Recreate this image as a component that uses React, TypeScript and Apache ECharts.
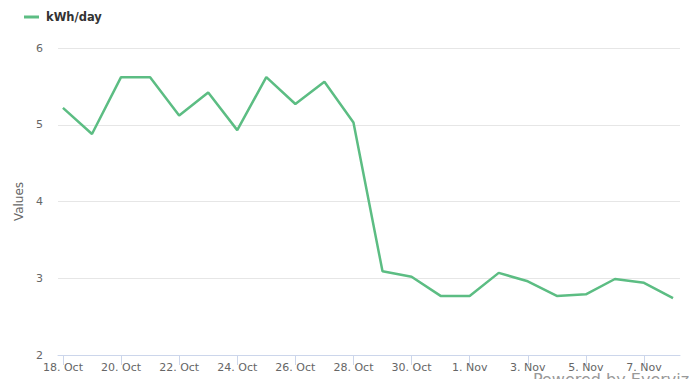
import React, { useEffect, useRef } from "react";
import * as echarts from "echarts";

const dates = [
  "18. Oct", "19. Oct", "20. Oct", "21. Oct", "22. Oct", "23. Oct", "24. Oct",
  "25. Oct", "26. Oct", "27. Oct", "28. Oct", "29. Oct", "30. Oct", "31. Oct",
  "1. Nov", "2. Nov", "3. Nov", "4. Nov", "5. Nov", "6. Nov", "7. Nov", "8. Nov",
];
const kwhPerDay = [
  5.22, 4.88, 5.62, 5.62, 5.12, 5.42, 4.93, 5.62, 5.27, 5.56, 5.03,
  3.09, 3.02, 2.77, 2.77, 3.07, 2.96, 2.77, 2.79, 2.99, 2.94, 2.74,
];
const seriesName = "kWh/day";
const tickIndices = [0, 2, 4, 6, 8, 10, 12, 14, 16, 18, 20];

const FONT = "'DejaVu Sans', Verdana, sans-serif";

export default function App() {
  const ref = useRef<HTMLDivElement>(null);
  useEffect(() => {
    if (!ref.current) return;
    const chart = echarts.init(ref.current, undefined, { renderer: "svg" });
    chart.setOption({
      animation: false,
      backgroundColor: "#ffffff",
      textStyle: { fontFamily: FONT },
      legend: {
        left: 19,
        top: 6,
        icon: "rect",
        itemWidth: 15,
        itemHeight: 3,
        itemGap: 10,
        textStyle: { fontFamily: FONT, fontSize: 11.5, fontWeight: "bold", color: "#333333", padding: [0, 0, 0, 2] },
        data: [seriesName],
      },
      grid: { left: 58, right: 9, top: 48, bottom: 24, containLabel: false },
      xAxis: {
        type: "value",
        min: -0.17,
        max: 21.24,
        axisLine: { show: true, lineStyle: { color: "#ccd6eb", width: 1 } },
        axisTick: { show: true, length: 10, lineStyle: { color: "#ccd6eb" }, customValues: tickIndices },
        axisLabel: {
          customValues: tickIndices,
          formatter: (v: number) => dates[Math.round(v)] ?? "",
          color: "#666666",
          fontSize: 11,
          fontFamily: FONT,
          margin: 7,
        },
        splitLine: { show: false },
      },
      yAxis: {
        type: "value",
        min: 2,
        max: 6,
        interval: 1,
        name: "Values",
        nameLocation: "middle",
        nameRotate: 90,
        nameGap: 30,
        nameTextStyle: { color: "#666666", fontSize: 12, fontFamily: FONT },
        axisLine: { show: false },
        axisTick: { show: false },
        axisLabel: { color: "#666666", fontSize: 11, fontFamily: FONT, margin: 15 },
        splitLine: { lineStyle: { color: "#e6e6e6", width: 1 } },
      },
      series: [
        {
          name: seriesName,
          type: "line",
          data: kwhPerDay.map((v, i) => [i, v]),
          showSymbol: false,
          symbol: "none",
          color: "#5cbd83",
          lineStyle: { color: "#5cbd83", width: 2.5 },
        },
      ],
      graphic: [
        {
          type: "text",
          left: 533,
          top: 371,
          style: {
            text: "Powered by Everviz",
            fill: "#999999",
            fontSize: 16,
            fontFamily: FONT,
          },
          silent: true,
        },
      ],
    });
    return () => chart.dispose();
  }, []);
  return (
    <div
      ref={ref}
      style={{ position: "absolute", left: 0, top: 0, width: 689, height: 379 }}
    />
  );
}
